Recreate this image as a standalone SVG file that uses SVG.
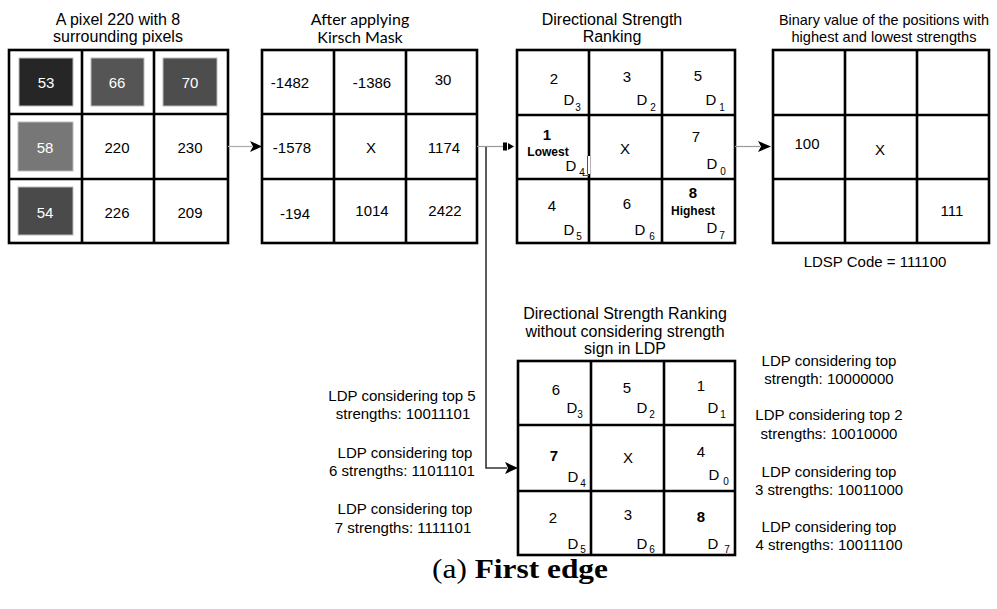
<svg xmlns="http://www.w3.org/2000/svg" width="997" height="609" viewBox="0 0 997 609">
  <defs>
    <style>
      .grid { fill: #ffffff; stroke: #000000; stroke-width: 2.6; }
      .div { stroke: #000000; stroke-width: 2.6; fill: none; }
      .t { font-family: "Liberation Sans", Arial, sans-serif; font-size: 15px; fill: #000000; text-anchor: middle; }
      .w { fill: #ffffff; }
      .ttl { font-family: "Liberation Sans", Arial, sans-serif; font-size: 16px; fill: #000000; text-anchor: middle; }
      .ttl-s { font-family: "Liberation Sans", Arial, sans-serif; font-size: 15px; fill: #000000; text-anchor: middle; }
      .ttl2 { font-family: Lato, "Open Sans", sans-serif; font-size: 16px; fill: #000000; text-anchor: middle; }
      .b { font-weight: bold; }
      .sm { font-size: 12px; }
      .sub { font-family: "Liberation Sans", Arial, sans-serif; font-size: 10px; fill: #000000; text-anchor: middle; }
      .note { font-family: "Liberation Sans", Arial, sans-serif; font-size: 15px; fill: #000000; text-anchor: middle; }
      .cap { font-family: "Liberation Serif", "Times New Roman", serif; font-size: 27px; fill: #000000; }
    </style>
  </defs>

  <!-- 3x3 neighbourhood of pixel 220 -->
  <g id="pixels">
    <text class="ttl" x="118" y="25">A pixel 220 with 8</text>
    <text class="ttl" x="118" y="42">surrounding pixels</text>
    <rect class="grid" x="9" y="50" width="219" height="193"/>
    <path class="div" d="M82 50V243M154 50V243M9 114H228M9 179H228"/>
    <rect x="19" y="58" width="54" height="48" fill="#262626" stroke="#bbbbbb" stroke-width="1"/>
    <rect x="91" y="58" width="53" height="48" fill="#555555" stroke="#bbbbbb" stroke-width="1"/>
    <rect x="163" y="58" width="54" height="48" fill="#4d4d4d" stroke="#bbbbbb" stroke-width="1"/>
    <rect x="18" y="122" width="55" height="49" fill="#777777" stroke="#bbbbbb" stroke-width="1"/>
    <rect x="18" y="187" width="55" height="48" fill="#4a4a4a" stroke="#bbbbbb" stroke-width="1"/>
    <text class="t w" x="46" y="88">53</text>
    <text class="t w" x="117" y="88">66</text>
    <text class="t w" x="190" y="88">70</text>
    <text class="t w" x="45" y="153">58</text>
    <text class="t" x="117" y="153">220</text>
    <text class="t" x="190" y="153">230</text>
    <text class="t w" x="45" y="218">54</text>
    <text class="t" x="117" y="218">226</text>
    <text class="t" x="190" y="218">209</text>
  </g>

  <!-- Kirsch mask responses -->
  <g id="kirsch">
    <text class="ttl2" x="360" y="25">After applying</text>
    <text class="ttl2" x="360" y="43">Kirsch Mask</text>
    <rect class="grid" x="262" y="50" width="215" height="193"/>
    <path class="div" d="M334 50V243M406 50V243M262 114H477M262 179H477"/>
    <text class="t" x="290" y="88">-1482</text>
    <text class="t" x="372" y="88">-1386</text>
    <text class="t" x="443" y="85">30</text>
    <text class="t" x="292" y="153">-1578</text>
    <text class="t" x="371" y="153">X</text>
    <text class="t" x="444" y="153">1174</text>
    <text class="t" x="295" y="219">-194</text>
    <text class="t" x="372" y="216">1014</text>
    <text class="t" x="445" y="216">2422</text>
  </g>

  <!-- signed strength ranking -->
  <g id="ranking">
    <text class="ttl" x="612" y="25">Directional Strength</text>
    <text class="ttl" x="612" y="42">Ranking</text>
    <rect class="grid" x="517" y="50" width="218" height="193"/>
    <path class="div" d="M589 50V243M662 50V243M517 115H735M517 179H735"/>
    <line x1="589" y1="156" x2="589" y2="174" stroke="#ffffff" stroke-width="2"/>
    <path d="M587.5 156V174M583 175.5H589" stroke="#555555" stroke-width="1" fill="none"/>
    <text class="t" x="554" y="84">2</text>
    <text class="t" x="569" y="105">D</text><text class="sub" x="578" y="111">3</text>
    <text class="t" x="627" y="82">3</text>
    <text class="t" x="642" y="105">D</text><text class="sub" x="653" y="111">2</text>
    <text class="t" x="698" y="81">5</text>
    <text class="t" x="711" y="105">D</text><text class="sub" x="722" y="111">1</text>
    <text class="t b" x="547" y="140">1</text>
    <text class="t b sm" x="548" y="156">Lowest</text>
    <text class="t" x="571" y="171">D</text><text class="sub" x="582" y="176">4</text>
    <text class="t" x="625" y="154">X</text>
    <text class="t" x="696" y="142">7</text>
    <text class="t" x="712" y="169">D</text><text class="sub" x="723" y="175">0</text>
    <text class="t" x="552" y="211">4</text>
    <text class="t" x="569" y="235">D</text><text class="sub" x="579" y="240">5</text>
    <text class="t" x="627" y="209">6</text>
    <text class="t" x="640" y="235">D</text><text class="sub" x="652" y="240">6</text>
    <text class="t b" x="693" y="198">8</text>
    <text class="t b sm" x="693" y="215">Highest</text>
    <text class="t" x="712" y="233">D</text><text class="sub" x="722" y="239">7</text>
  </g>

  <!-- binary codes of extreme positions -->
  <g id="binary">
    <text class="ttl-s" x="884" y="25" textLength="210" lengthAdjust="spacingAndGlyphs">Binary value of the positions with</text>
    <text class="ttl-s" x="884" y="42" textLength="185" lengthAdjust="spacingAndGlyphs">highest and lowest strengths</text>
    <rect class="grid" x="773" y="50" width="216" height="193"/>
    <path class="div" d="M845 50V243M917 50V243M773 115H989M773 179H989"/>
    <text class="t" x="807" y="149">100</text>
    <text class="t" x="880" y="155">X</text>
    <text class="t" x="952" y="216">111</text>
    <text class="note" x="875" y="267">LDSP Code = 111100</text>
  </g>

  <!-- unsigned strength ranking (LDP) -->
  <g id="ldp">
    <text class="ttl" x="625" y="319">Directional Strength Ranking</text>
    <text class="ttl" x="625" y="337">without considering strength</text>
    <text class="ttl" x="625" y="354">sign in LDP</text>
    <rect class="grid" x="518" y="361" width="217" height="194"/>
    <path class="div" d="M591 361V555M664 361V555M518 425H735M518 491H735"/>
    <text class="t" x="556" y="395">6</text>
    <text class="t" x="572" y="413">D</text><text class="sub" x="580" y="418">3</text>
    <text class="t" x="627" y="393">5</text>
    <text class="t" x="642" y="413">D</text><text class="sub" x="652" y="418">2</text>
    <text class="t" x="701" y="391">1</text>
    <text class="t" x="713" y="413">D</text><text class="sub" x="723" y="418">1</text>
    <text class="t b" x="554" y="461">7</text>
    <text class="t" x="573" y="482">D</text><text class="sub" x="583" y="487">4</text>
    <text class="t" x="628" y="463">X</text>
    <text class="t" x="701" y="457">4</text>
    <text class="t" x="714" y="480">D</text><text class="sub" x="726" y="485">0</text>
    <text class="t" x="553" y="523">2</text>
    <text class="t" x="573" y="549">D</text><text class="sub" x="583" y="553">5</text>
    <text class="t" x="628" y="520">3</text>
    <text class="t" x="642" y="549">D</text><text class="sub" x="652" y="553">6</text>
    <text class="t b" x="701" y="522">8</text>
    <text class="t" x="713" y="549">D</text><text class="sub" x="727" y="553">7</text>
  </g>

  <!-- LDP codes for the lower ranks -->
  <g id="ldp-left">
    <text class="note" x="402" y="401">LDP considering top 5</text>
    <text class="note" x="403" y="419">strengths: 10011101</text>
    <text class="note" x="405" y="458">LDP considering top</text>
    <text class="note" x="402" y="476">6 strengths: 11011101</text>
    <text class="note" x="405" y="514">LDP considering top</text>
    <text class="note" x="403" y="533">7 strengths: 1111101</text>
  </g>

  <!-- LDP codes for the upper ranks -->
  <g id="ldp-right">
    <text class="note" x="829" y="366">LDP considering top</text>
    <text class="note" x="829" y="384">strength: 10000000</text>
    <text class="note" x="829" y="420">LDP considering top 2</text>
    <text class="note" x="829" y="439">strengths: 10010000</text>
    <text class="note" x="829" y="477">LDP considering top</text>
    <text class="note" x="829" y="495">3 strengths: 10011000</text>
    <text class="note" x="829" y="532">LDP considering top</text>
    <text class="note" x="829" y="550">4 strengths: 10011100</text>
  </g>

  <!-- arrows between stages -->
  <g id="connectors">
    <line x1="228" y1="146.5" x2="252" y2="146.5" stroke="#aaaaaa" stroke-width="1.2"/>
    <path d="M250 141L262 146.5L250 152L253 146.5Z" fill="#000000"/>

    <line x1="477" y1="146.5" x2="504" y2="146.5" stroke="#999999" stroke-width="1.2"/>
    <rect x="503" y="142.5" width="4" height="8" fill="#000000"/>
    <path d="M508 143L514 146.5L508 150Z" fill="#000000"/>

    <line x1="735" y1="146.5" x2="760" y2="146.5" stroke="#999999" stroke-width="1.2"/>
    <path d="M758 141L771 146.5L758 152L761 146.5Z" fill="#000000"/>

    <path d="M486 147V468H507" stroke="#333333" stroke-width="1.6" fill="none"/>
    <path d="M505 462L518 468L505 474L508 468Z" fill="#000000"/>
  </g>

  <text class="cap" x="432" y="578" textLength="176" lengthAdjust="spacingAndGlyphs">(a) <tspan font-weight="bold">First edge</tspan></text>
</svg>
